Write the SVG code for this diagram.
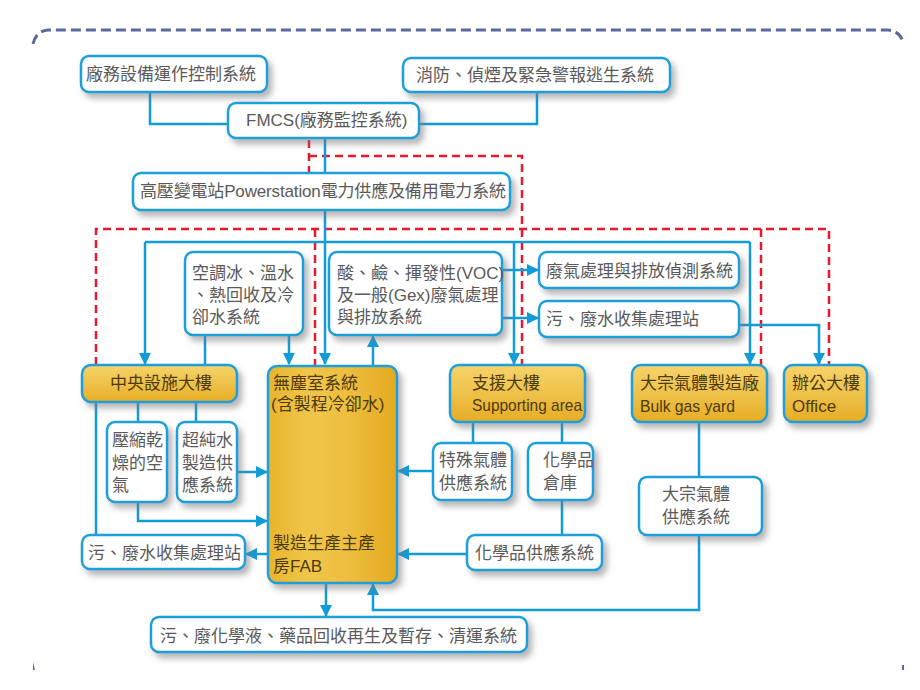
<svg xmlns="http://www.w3.org/2000/svg" width="920" height="690" viewBox="0 0 920 690">
<defs>
<linearGradient id="gold" x1="0" y1="0" x2="0" y2="1">
<stop offset="0" stop-color="#f6d36a"/>
<stop offset="0.5" stop-color="#eec24a"/>
<stop offset="1" stop-color="#e6ac24"/>
</linearGradient>
<linearGradient id="goldBig" x1="0" y1="0" x2="1" y2="0">
<stop offset="0" stop-color="#e8b42c"/>
<stop offset="0.3" stop-color="#f0c64a"/>
<stop offset="0.6" stop-color="#eebf40"/>
<stop offset="1" stop-color="#e4aa22"/>
</linearGradient>
<filter id="sh" x="-20%" y="-20%" width="150%" height="160%">
<feDropShadow dx="4" dy="5" stdDeviation="3" flood-color="#777" flood-opacity="0.55"/>
</filter>
<marker id="ar" viewBox="0 0 12 12" refX="11" refY="6" markerWidth="12" markerHeight="12" markerUnits="userSpaceOnUse" orient="auto">
<path d="M0,0 L12,6 L0,12 Z" fill="#109bd9"/>
</marker>
<style>
.box{fill:#fff;stroke:#1e9fdb;stroke-width:2.5;filter:url(#sh)}
.gbox{fill:url(#gold);stroke:#1e9fdb;stroke-width:2.5;filter:url(#sh)}
.t{font-family:"Liberation Sans","Noto Sans CJK TC",sans-serif;font-size:17px;fill:#5a5a5a;dominant-baseline:central}
.g{font-family:"Liberation Sans","Noto Sans CJK TC",sans-serif;font-size:17px;fill:#4e3a0c;dominant-baseline:central}
.c{fill:none;stroke:#109bd9;stroke-width:2.5}
.a{marker-end:url(#ar)}
.r{fill:none;stroke:#e8192c;stroke-width:2.5;stroke-dasharray:8 5}
</style>
</defs>
<rect width="920" height="690" fill="#fff"/>
<g id="frame">
<path d="M33,44 Q36,31 48,30 H888 Q900,31 903,42" fill="none" stroke="#5a6a9e" stroke-width="3" stroke-dasharray="10 5"/>
<path d="M33,662 L35,670 L33,670 Z" fill="#5a6a9e"/>
<path d="M902,665 L904,665 L904,670 L902,670 Z" fill="#5a6a9e"/>
</g>
<g id="connectors">
<path class="r" d="M309,140 V173 M309,156 H522 V365"/>
<path class="r" d="M96,365 V229 H829 V365"/>
<path class="r" d="M315,229 V366"/>
<path class="r" d="M761,229 V365"/>
<path class="c" d="M150,92 V124 H228"/>
<path class="c" d="M537,92 V124 H419"/>
<path class="c a" d="M325,138 V364"/>
<path class="c" d="M145,242 H750"/>
<path class="c a" d="M145,242 V364"/>
<path class="c a" d="M514,242 V364"/>
<path class="c a" d="M750,242 V364"/>
<path class="c" d="M205,335 V365"/>
<path class="c a" d="M289,335 V364"/>
<path class="c a" d="M373,366 V336"/>
<path class="c a" d="M502,270 H538"/>
<path class="c a" d="M502,318 H538"/>
<path class="c a" d="M739,325 H819 V364"/>
<path class="c" d="M138,402 V422 M196,402 V422 M96,402 V535"/>
<path class="c a" d="M237,472 H267"/>
<path class="c a" d="M138,502 V521 H267"/>
<path class="c a" d="M268,554 H246"/>
<path class="c" d="M473,422 V443 M562,422 V443 M562,500 V535"/>
<path class="c a" d="M433,471 H398"/>
<path class="c a" d="M467,554 H398"/>
<path class="c" d="M699,422 V477"/>
<path class="c a" d="M699,535 V610 H373 V584"/>
<path class="c a" d="M326,583 V616"/>
</g>
<g id="n_equip"><rect class="box" x="81" y="56" width="186" height="36" rx="8"/><text class="t" x="86" y="74">廠務設備運作控制系統</text></g>
<g id="n_fire"><rect class="box" x="403" y="58" width="267" height="34" rx="8"/><text class="t" x="416" y="75">消防、偵煙及緊急警報逃生系統</text></g>
<g id="n_fmcs"><rect class="box" x="228" y="103" width="191" height="35" rx="8"/><text class="t" x="246" y="120">FMCS(廠務監控系統)</text></g>
<g id="n_power"><rect class="box" x="133" y="173" width="377" height="37" rx="8"/><text class="t" x="140" y="191" textLength="366">高壓變電站Powerstation電力供應及備用電力系統</text></g>
<g id="n_hvac"><rect class="box" x="185" y="252" width="118" height="83" rx="8"/><text class="t" x="192" y="273">空調冰、溫水</text><text class="t" x="192" y="295">、熱回收及冷</text><text class="t" x="192" y="317">卻水系統</text></g>
<g id="n_exhaust"><rect class="box" x="329" y="252" width="173" height="83" rx="8"/><text class="t" x="337" y="273">酸、鹼、揮發性(VOC)</text><text class="t" x="337" y="295">及一般(Gex)廢氣處理</text><text class="t" x="337" y="317">與排放系統</text></g>
<g id="n_detect"><rect class="box" x="539" y="252" width="200" height="36" rx="8"/><text class="t" x="546" y="271">廢氣處理與排放偵測系統</text></g>
<g id="n_waste_r"><rect class="box" x="539" y="301" width="200" height="36" rx="8"/><text class="t" x="546" y="319">污、廢水收集處理站</text></g>
<g id="n_central"><rect class="gbox" x="82" y="365" width="155" height="37" rx="9"/><text class="g" x="110" y="383">中央設施大樓</text></g>
<g id="n_fab"><rect class="gbox" x="268" y="366" width="129" height="217" rx="9" style="fill:url(#goldBig)"/><text class="g" x="273" y="383">無塵室系統</text><text class="g" x="271" y="404">(含製程冷卻水)</text><text class="g" x="273" y="543">製造生產主產</text><text class="g" x="273" y="566">房FAB</text></g>
<g id="n_support"><rect class="gbox" x="450" y="365" width="135" height="57" rx="9"/><text class="g" x="472" y="383">支援大樓</text><text class="g" x="472" y="405" textLength="110" lengthAdjust="spacingAndGlyphs">Supporting area</text></g>
<g id="n_bulkyard"><rect class="gbox" x="632" y="365" width="135" height="57" rx="9"/><text class="g" x="640" y="383">大宗氣體製造廠</text><text class="g" x="640" y="406" textLength="95" lengthAdjust="spacingAndGlyphs">Bulk gas yard</text></g>
<g id="n_office"><rect class="gbox" x="784" y="365" width="83" height="57" rx="9"/><text class="g" x="792" y="383">辦公大樓</text><text class="g" x="792" y="406">Office</text></g>
<g id="n_cda"><rect class="box" x="107" y="422" width="60" height="80" rx="8"/><text class="t" x="112" y="440">壓縮乾</text><text class="t" x="112" y="463">燥的空</text><text class="t" x="112" y="485">氣</text></g>
<g id="n_upw"><rect class="box" x="177" y="422" width="60" height="80" rx="8"/><text class="t" x="182" y="440">超純水</text><text class="t" x="182" y="463">製造供</text><text class="t" x="182" y="485">應系統</text></g>
<g id="n_waste_l"><rect class="box" x="82" y="535" width="163" height="34" rx="8"/><text class="t" x="88" y="553">污、廢水收集處理站</text></g>
<g id="n_specgas"><rect class="box" x="433" y="443" width="79" height="57" rx="8"/><text class="t" x="439" y="460">特殊氣體</text><text class="t" x="439" y="483">供應系統</text></g>
<g id="n_chemstore"><rect class="box" x="528" y="443" width="65" height="57" rx="8"/><text class="t" x="543" y="460">化學品</text><text class="t" x="543" y="483">倉庫</text></g>
<g id="n_chemsupply"><rect class="box" x="467" y="535" width="135" height="35" rx="8"/><text class="t" x="475" y="553">化學品供應系統</text></g>
<g id="n_bulksupply"><rect class="box" x="639" y="477" width="123" height="58" rx="8"/><text class="t" x="662" y="494">大宗氣體</text><text class="t" x="662" y="517">供應系統</text></g>
<g id="n_chemwaste"><rect class="box" x="151" y="617" width="376" height="35" rx="8"/><text class="t" x="160" y="636">污、廢化學液、藥品回收再生及暫存、清運系統</text></g>
</svg>
